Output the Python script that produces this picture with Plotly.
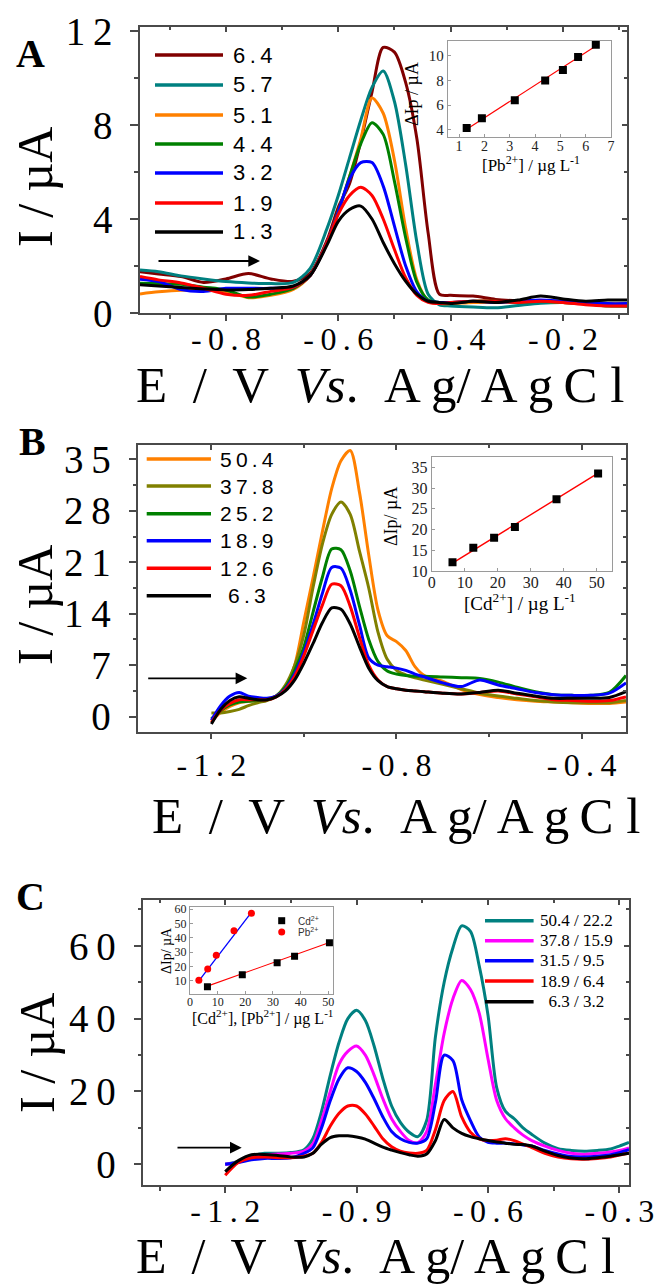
import plotly.graph_objects as go

W, H = 656, 1286

# ================= DATA =================
# ---- Panel A : Pb2+ (ug/L) ----
a_E = [-0.953, -0.92, -0.88, -0.84, -0.80, -0.76, -0.72, -0.68, -0.65, -0.62, -0.60, -0.58, -0.56, -0.54,
       -0.52, -0.50, -0.48, -0.46, -0.44, -0.42, -0.40, -0.36, -0.32, -0.28, -0.24, -0.20, -0.16, -0.12, -0.086]
a_I_64 = [1.76, 1.66, 1.55, 1.30, 1.45, 1.68, 1.45, 1.35, 1.70, 3.10, 4.50, 5.50, 7.30, 9.40, 11.30, 11.10,
          9.80, 7.40, 3.40, 0.80, 0.75, 0.72, 0.58, 0.52, 0.50, 0.48, 0.40, 0.32, 0.30]
a_I_57 = [1.83, 1.76, 1.58, 1.45, 1.34, 1.28, 1.25, 1.30, 1.90, 3.60, 5.00, 6.60, 8.20, 9.60, 10.30, 9.00,
          6.30, 3.00, 0.80, 0.35, 0.30, 0.25, 0.22, 0.32, 0.42, 0.45, 0.40, 0.38, 0.40]
a_I_51 = [0.81, 0.90, 0.97, 0.97, 0.91, 0.65, 0.75, 1.00, 1.60, 3.00, 4.30, 5.80, 7.40, 9.15, 8.50, 6.50,
          3.60, 1.40, 0.50, 0.40, 0.40, 0.45, 0.45, 0.50, 0.50, 0.45, 0.40, 0.40, 0.40]
a_I_44 = [1.27, 1.25, 1.22, 1.10, 0.98, 0.68, 0.80, 1.05, 1.60, 3.00, 4.30, 5.80, 7.20, 8.10, 7.60, 5.60,
          3.20, 1.30, 0.55, 0.45, 0.45, 0.50, 0.50, 0.45, 0.50, 0.45, 0.40, 0.30, 0.30]
a_I_32 = [1.44, 1.34, 1.00, 0.92, 1.05, 1.05, 1.05, 1.10, 1.60, 3.00, 4.30, 5.70, 6.40, 6.40, 5.40, 3.70,
          2.00, 0.90, 0.50, 0.45, 0.45, 0.50, 0.45, 0.50, 0.55, 0.50, 0.45, 0.40, 0.40]
a_I_19 = [1.55, 1.41, 1.28, 1.05, 0.80, 0.75, 0.92, 1.10, 1.60, 3.00, 4.20, 5.00, 5.35, 5.00, 4.00, 2.70,
          1.50, 0.75, 0.45, 0.40, 0.45, 0.50, 0.50, 0.45, 0.50, 0.45, 0.35, 0.30, 0.30]
a_I_13 = [1.20, 1.15, 1.08, 1.02, 0.98, 1.00, 1.05, 1.15, 1.60, 2.90, 3.90, 4.40, 4.55, 4.00, 3.00, 2.10,
          1.35, 0.80, 0.50, 0.45, 0.40, 0.50, 0.45, 0.55, 0.72, 0.60, 0.50, 0.55, 0.55]
a_names = ["6.4", "5.7", "5.1", "4.4", "3.2", "1.9", "1.3"]
a_colors = ["#800000", "#008080", "#ff8000", "#008000", "#0000ff", "#ff0000", "#000000"]
a_curves = [a_I_64, a_I_57, a_I_51, a_I_44, a_I_32, a_I_19, a_I_13]

a_ins_conc = [1.3, 1.9, 3.2, 4.4, 5.1, 5.7, 6.4]
a_ins_dIp = [4.15, 4.95, 6.4, 8.0, 8.85, 9.9, 10.9]
a_fit_conc = [1.3, 6.4]
a_fit_dIp = [4.05, 10.8]

# ---- Panel B : Cd2+ (ug/L) ----
b_E = [-1.20, -1.18, -1.16, -1.14, -1.12, -1.10, -1.08, -1.06, -1.04, -1.02, -1.00, -0.98, -0.96, -0.94,
       -0.92, -0.90, -0.88, -0.86, -0.84, -0.82, -0.80, -0.78, -0.76, -0.74, -0.70, -0.66, -0.62, -0.58,
       -0.54, -0.50, -0.46, -0.42, -0.38, -0.34, -0.304]
b_I_504 = [-0.6, 0.6, 1.4, 1.9, 2.1, 2.2, 2.3, 2.8, 4.0, 7.0, 13.0, 19.0, 25.2, 31.0, 34.8, 36.2, 30.5, 22.0,
           14.5, 11.0, 10.2, 9.0, 6.8, 5.6, 4.8, 3.7, 3.0, 2.6, 2.3, 2.1, 2.0, 1.9, 1.8, 1.8, 2.0]
b_I_378 = [0.5, 0.5, 0.7, 1.0, 1.5, 1.9, 2.2, 2.8, 4.3, 7.0, 11.2, 17.7, 23.5, 27.5, 29.2, 27.5, 22.5, 17.5,
           11.5, 7.8, 6.3, 5.7, 5.3, 5.0, 4.4, 3.8, 3.2, 2.8, 2.5, 2.2, 2.0, 1.9, 1.9, 1.9, 2.2]
b_I_252 = [-0.3, 0.8, 1.6, 2.0, 2.1, 2.2, 2.3, 2.8, 4.0, 6.3, 9.5, 14.3, 19.0, 22.8, 22.7, 19.8, 15.0, 10.5,
           7.5, 6.2, 5.8, 5.6, 5.5, 5.5, 5.4, 5.3, 5.2, 4.7, 4.0, 3.4, 3.0, 2.9, 2.9, 3.3, 5.6]
b_I_189 = [-0.5, 1.5, 2.8, 3.3, 2.8, 2.6, 2.5, 2.8, 3.8, 5.8, 8.8, 12.6, 16.8, 20.3, 20.2, 17.2, 12.5, 8.0,
           7.0, 6.8, 6.6, 6.3, 5.8, 5.4, 4.6, 4.1, 5.0, 4.3, 3.8, 3.3, 3.0, 2.9, 2.9, 3.2, 4.6]
b_I_126 = [-0.8, 0.9, 1.8, 2.3, 2.3, 2.3, 2.3, 2.7, 3.7, 5.5, 8.3, 11.8, 15.2, 18.0, 17.8, 15.0, 10.8, 7.0,
           5.0, 4.1, 3.8, 3.6, 3.5, 3.4, 3.2, 3.1, 3.3, 3.5, 3.1, 2.7, 2.3, 2.2, 2.1, 2.2, 2.7]
b_I_63 = [-1.0, 1.0, 2.2, 2.7, 2.5, 2.3, 2.3, 2.7, 3.5, 5.0, 7.3, 10.0, 12.8, 14.8, 14.6, 12.6, 9.5, 6.6,
          4.9, 4.1, 3.8, 3.6, 3.5, 3.4, 3.2, 3.1, 3.3, 3.6, 3.2, 2.8, 2.5, 2.5, 2.5, 2.6, 3.4]
b_names = ["50.4", "37.8", "25.2", "18.9", "12.6", "6.3"]
b_colors = ["#ff8000", "#808000", "#008000", "#0000ff", "#ff0000", "#000000"]
b_curves = [b_I_504, b_I_378, b_I_252, b_I_189, b_I_126, b_I_63]

b_ins_conc = [6.3, 12.6, 18.9, 25.2, 37.8, 50.4]
b_ins_dIp = [12.1, 15.6, 18.0, 20.6, 27.3, 33.5]
b_fit_conc = [6.3, 50.4]
b_fit_dIp = [11.9, 33.6]

# ---- Panel C : Cd2+ / Pb2+ simultaneous ----
c_E = [-1.20, -1.17, -1.14, -1.11, -1.08, -1.05, -1.02, -1.00, -0.98, -0.96, -0.94, -0.92, -0.90, -0.88,
       -0.86, -0.84, -0.82, -0.80, -0.78, -0.76, -0.74, -0.72, -0.70, -0.68, -0.66, -0.64, -0.62, -0.60,
       -0.58, -0.56, -0.54, -0.52, -0.50, -0.47, -0.44, -0.41, -0.38, -0.35, -0.32, -0.30, -0.278]
c_I_1 = [0.0, 0.8, 2.2, 3.0, 3.0, 3.2, 4.0, 7.0, 14.5, 24.5, 33.5, 40.0, 42.3, 39.5, 32.5, 23.5, 16.0, 11.5,
         8.8, 7.6, 12.0, 35.0, 50.0, 59.5, 65.5, 64.0, 54.5, 41.0, 21.0, 14.5, 12.5, 10.0, 8.2, 5.8, 4.3,
         3.8, 3.6, 3.8, 4.2, 5.0, 6.0]
c_I_2 = [0.0, 0.5, 1.8, 2.6, 2.8, 3.0, 3.6, 5.5, 12.0, 20.0, 27.5, 31.0, 32.5, 30.0, 24.5, 18.0, 12.5, 9.0,
         6.5, 5.9, 9.0, 22.0, 36.0, 45.5, 50.5, 48.0, 41.5, 29.0, 17.5, 12.5, 10.0, 8.0, 6.5, 5.0, 3.8, 3.0,
         2.7, 3.0, 3.4, 3.8, 4.5]
c_I_3 = [0.0, 0.5, 1.2, 1.6, 1.6, 1.8, 3.0, 4.5, 10.0, 17.5, 23.5, 26.5, 25.5, 22.5, 18.0, 13.0, 9.0, 7.0,
         6.0, 5.8, 7.0, 17.0, 30.0, 28.5, 17.7, 12.0, 7.5, 6.0, 5.8, 5.8, 5.6, 5.3, 5.0, 3.8, 2.8, 2.1, 2.0,
         2.2, 2.6, 3.2, 4.0]
c_I_4 = [-3.0, 0.5, 1.8, 2.0, 1.8, 1.8, 2.2, 3.0, 6.0, 10.5, 14.0, 16.0, 16.0, 13.8, 10.5, 7.0, 4.8, 3.6,
         3.1, 3.0, 3.8, 9.5, 17.5, 20.0, 13.0, 8.8, 7.0, 6.5, 6.6, 7.0, 6.5, 5.5, 4.6, 3.0, 2.0, 1.5, 1.4,
         1.6, 2.0, 2.5, 3.0]
c_I_5 = [-2.0, 1.0, 2.6, 2.7, 2.4, 2.0, 2.0, 3.0, 5.5, 7.3, 7.8, 7.8, 7.5, 6.9, 5.8, 4.7, 3.9, 3.2, 2.6,
         2.2, 2.8, 6.5, 12.3, 10.0, 8.5, 7.6, 7.0, 6.5, 6.1, 5.8, 5.5, 5.4, 5.0, 3.6, 2.4, 1.7, 1.5, 1.8,
         2.2, 2.6, 3.0]
c_names = ["50.4 / 22.2", "37.8 / 15.9", "31.5 / 9.5", "18.9 / 6.4", "\u00a0\u00a06.3 / 3.2"]
c_colors = ["#008080", "#ff00ff", "#0000ff", "#ff0000", "#000000"]
c_curves = [c_I_1, c_I_2, c_I_3, c_I_4, c_I_5]

c_cd_conc = [6.3, 18.9, 31.5, 37.8, 50.4]
c_cd_dIp = [6.0, 14.3, 22.7, 27.2, 36.7]
c_pb_conc = [3.2, 6.4, 9.5, 15.9, 22.2]
c_pb_dIp = [10.5, 18.4, 28.0, 45.0, 57.3]
c_cd_fit_conc = [6.3, 50.4]
c_cd_fit_dIp = [6.4, 36.8]
c_pb_fit_conc = [3.2, 22.2]
c_pb_fit_dIp = [10.0, 57.8]

# ================= STYLE HELPERS =================
SERIF = "Liberation Serif, Times New Roman, serif"
SANS = "Liberation Sans, Arial, sans-serif"
FRAME = "#4a4a4a"
INS = "#9a9a9a"


def sp(s):
    return "\u2009".join(list(s))


def dx(l, r):
    return [l / W, r / W]


def dy(t, b):
    return [1 - b / H, 1 - t / H]


def px(x):
    return x / W


def py(y):
    return 1 - y / H


fig = go.Figure()

for ys, c in zip(a_curves, a_colors):
    fig.add_trace(go.Scatter(x=a_E, y=ys, mode="lines", line=dict(color=c, width=3, shape="spline", smoothing=0.8),
                             xaxis="x", yaxis="y", showlegend=False, hoverinfo="skip"))
for ys, c in zip(b_curves, b_colors):
    fig.add_trace(go.Scatter(x=b_E, y=ys, mode="lines", line=dict(color=c, width=3, shape="spline", smoothing=0.8),
                             xaxis="x3", yaxis="y3", showlegend=False, hoverinfo="skip"))
for ys, c in zip(c_curves, c_colors):
    fig.add_trace(go.Scatter(x=c_E, y=ys, mode="lines", line=dict(color=c, width=3, shape="spline", smoothing=0.8),
                             xaxis="x5", yaxis="y5", showlegend=False, hoverinfo="skip"))

fig.add_trace(go.Scatter(x=a_fit_conc, y=a_fit_dIp, mode="lines", line=dict(color="#ff0000", width=1.2),
                         xaxis="x2", yaxis="y2", showlegend=False))
fig.add_trace(go.Scatter(x=a_ins_conc, y=a_ins_dIp, mode="markers", marker=dict(symbol="square", size=8, color="black"),
                         xaxis="x2", yaxis="y2", showlegend=False))
fig.add_trace(go.Scatter(x=b_fit_conc, y=b_fit_dIp, mode="lines", line=dict(color="#ff0000", width=1.4),
                         xaxis="x4", yaxis="y4", showlegend=False))
fig.add_trace(go.Scatter(x=b_ins_conc, y=b_ins_dIp, mode="markers", marker=dict(symbol="square", size=8, color="black"),
                         xaxis="x4", yaxis="y4", showlegend=False))
fig.add_trace(go.Scatter(x=c_pb_fit_conc, y=c_pb_fit_dIp, mode="lines", line=dict(color="#0000ff", width=1.3),
                         xaxis="x6", yaxis="y6", showlegend=False))
fig.add_trace(go.Scatter(x=c_cd_fit_conc, y=c_cd_fit_dIp, mode="lines", line=dict(color="#ff0000", width=1.1),
                         xaxis="x6", yaxis="y6", showlegend=False))
fig.add_trace(go.Scatter(x=c_cd_conc, y=c_cd_dIp, mode="markers", marker=dict(symbol="square", size=7, color="black"),
                         xaxis="x6", yaxis="y6", showlegend=False))
fig.add_trace(go.Scatter(x=c_pb_conc, y=c_pb_dIp, mode="markers", marker=dict(symbol="circle", size=7, color="#ff0000"),
                         xaxis="x6", yaxis="y6", showlegend=False))

for xa, ya in [("x7", "y7"), ("x8", "y8"), ("x9", "y9")]:
    fig.add_trace(go.Scatter(x=[None], y=[None], xaxis=xa, yaxis=ya, showlegend=False, hoverinfo="skip"))


def main_x(dom, anchor, rng, tv, minor_tv, standoff):
    return dict(domain=dom, anchor=anchor, range=rng, tickmode="array", tickvals=tv,
                ticktext=[sp(f"{v:.1f}") for v in tv],
                ticks="outside", ticklen=6, tickwidth=1.5, tickcolor=FRAME,
                minor=dict(tickmode="array", tickvals=minor_tv, ticks="outside", ticklen=4, tickwidth=1.5, tickcolor=FRAME),
                showline=True, linecolor=FRAME, linewidth=1.5, mirror=True, showgrid=False, zeroline=False,
                tickfont=dict(family=SERIF, size=32, color="black"), ticklabelstandoff=standoff, automargin=False)


def main_y(dom, anchor, rng, tv, minor_tv):
    return dict(domain=dom, anchor=anchor, range=rng, tickmode="array", tickvals=tv,
                ticktext=[sp(str(v)) for v in tv],
                ticks="outside", ticklen=8, tickwidth=1.5, tickcolor=FRAME,
                minor=dict(tickmode="array", tickvals=minor_tv, ticks="outside", ticklen=4, tickwidth=1.5, tickcolor=FRAME),
                showline=True, linecolor=FRAME, linewidth=1.5, mirror=True, showgrid=False, zeroline=False,
                tickfont=dict(family=SERIF, size=39, color="black"), ticklabelstandoff=10, automargin=False)


def over_x(base, anchor, rng, tv, minor_tv):
    return dict(overlaying=base, anchor=anchor, side="top", range=rng, tickmode="array", tickvals=tv,
                ticks="inside", ticklen=5, tickwidth=1.5, tickcolor=FRAME, showticklabels=False,
                minor=dict(tickmode="array", tickvals=minor_tv, ticks="inside", ticklen=3, tickwidth=1.5, tickcolor=FRAME),
                showline=False, showgrid=False, zeroline=False, automargin=False)


def over_y(base, anchor, rng, tv, minor_tv):
    return dict(overlaying=base, anchor=anchor, side="right", range=rng, tickmode="array", tickvals=tv,
                ticks="inside", ticklen=5, tickwidth=1.5, tickcolor=FRAME, showticklabels=False,
                minor=dict(tickmode="array", tickvals=minor_tv, ticks="inside", ticklen=3, tickwidth=1.5, tickcolor=FRAME),
                showline=False, showgrid=False, zeroline=False, automargin=False)


def ins_ax(dom, anchor, rng, tv, size, standoff=0):
    return dict(domain=dom, anchor=anchor, range=rng, tickmode="array", tickvals=tv,
                ticks="inside", ticklen=3, tickwidth=1, tickcolor=INS,
                showline=True, linecolor=INS, linewidth=1, mirror=True, showgrid=False, zeroline=False,
                tickfont=dict(family=SERIF, size=size, color="#222"), ticklabelstandoff=standoff, automargin=False)


A_XR, A_YR = [-0.953, -0.086], [0, 12.17]
A_XT, A_XM = [-0.8, -0.6, -0.4, -0.2], [-0.9, -0.7, -0.5, -0.3, -0.1]
A_YT, A_YM = [0, 4, 8, 12], [2, 6, 10]
B_XR, B_YR = [-1.358, -0.304], [-2.04, 36.94]
B_XT, B_XM = [-1.2, -0.8, -0.4], [-1.0, -0.6]
B_YT, B_YM = [0, 7, 14, 21, 28, 35], [3.5, 10.5, 17.5, 24.5, 31.5]
C_XR, C_YR = [-1.387, -0.278], [-5.7, 72.6]
C_XT, C_XM = [-1.2, -0.9, -0.6, -0.3], [-1.35, -1.05, -0.75, -0.45]
C_YT, C_YM = [0, 20, 40, 60], [10, 30, 50, 70]

A_XD, A_YD = dx(140, 627), dy(27, 313)
B_XD, B_YD = dx(138.3, 626), dy(445, 731.7)
C_XD, C_YD = dx(143.3, 629), dy(900, 1185)

fig.update_layout(
    width=W, height=H, autosize=False, margin=dict(l=0, r=0, t=0, b=0, pad=0),
    paper_bgcolor="white", plot_bgcolor="white", showlegend=False,
    xaxis=main_x(A_XD, "y", A_XR, A_XT, A_XM, -9),
    yaxis=main_y(A_YD, "x", A_YR, A_YT, A_YM),
    xaxis3=main_x(B_XD, "y3", B_XR, B_XT, B_XM, -2),
    yaxis3=main_y(B_YD, "x3", B_YR, B_YT, B_YM),
    xaxis5=main_x(C_XD, "y5", C_XR, C_XT, C_XM, -9),
    yaxis5=main_y(C_YD, "x5", C_YR, C_YT, C_YM),
    xaxis7=over_x("x", "y7", A_XR, A_XT, A_XM),
    yaxis7=over_y("y", "x7", A_YR, A_YT, A_YM),
    xaxis8=over_x("x3", "y8", B_XR, B_XT, B_XM),
    yaxis8=over_y("y3", "x8", B_YR, B_YT, B_YM),
    xaxis9=over_x("x5", "y9", C_XR, C_XT, C_XM),
    yaxis9=over_y("y5", "x9", C_YR, C_YT, C_YM),
    xaxis2=ins_ax(dx(447.7, 611), "y2", [0.55, 7.0], [1, 2, 3, 4, 5, 6, 7], 14, -4),
    yaxis2=ins_ax(dy(41, 137.3), "x2", [3.4, 11.2], [4, 6, 8, 10], 15),
    xaxis4=ins_ax(dx(431.7, 612.3), "y4", [0, 54.7], [0, 10, 20, 30, 40, 50], 16, -3),
    yaxis4=ins_ax(dy(457.3, 571), "x4", [10, 37.4], [10, 15, 20, 25, 30, 35], 16),
    xaxis6=ins_ax(dx(190, 333.3), "y6", [0, 51.8], [0, 10, 20, 30, 40, 50], 12, -3),
    yaxis6=ins_ax(dy(906.7, 994), "x6", [0.9, 61.8], [10, 20, 30, 40, 50, 60], 12),
)

ann = []
shapes = []


def text(x, y, t, size, family=SERIF, angle=0, xanchor="center", bold=False, color="black", yanchor="middle"):
    if bold:
        t = f"<b>{t}</b>"
    ann.append(dict(x=px(x), y=py(y), xref="paper", yref="paper", text=t, showarrow=False,
                    font=dict(family=family, size=size, color=color), textangle=angle,
                    xanchor=xanchor, yanchor=yanchor))


XT = "E\u00a0\u00a0/\u00a0\u00a0V\u00a0\u00a0<i>Vs</i>.\u00a0\u00a0A\u2009g/\u2009A\u2009g\u2009C\u00a0l"
YT = "I\u00a0/\u00a0\u00b5A"

text(30, 54, "A", 40, bold=True)
text(32, 441, "B", 40, bold=True)
text(30, 896, "C", 40, bold=True)
text(380, 385, XT, 51)
text(396, 816, XT, 51)
text(376, 1286, XT, 50, yanchor="bottom")
text(35, 187, YT, 50, angle=-90)
text(35, 605, YT, 50, angle=-90)
text(37, 1053, YT, 50, angle=-90)

text(531, 164, "[Pb<sup>2+</sup>] / \u00b5g L<sup>-1</sup>", 17)
text(412, 94, "\u0394Ip / \u00b5A", 18, angle=-90)
text(520, 602, "[Cd<sup>2+</sup>] / \u00b5g L<sup>-1</sup>", 19)
text(391, 517, "\u0394Ip/ \u00b5A", 18, angle=-90)
text(262, 1017, "[Cd<sup>2+</sup>], [Pb<sup>2+</sup>] / \u00b5g L<sup>-1</sup>", 16)
text(166, 951, "\u0394Ip/ \u00b5A", 14, angle=-90)

a_rows = [55, 85, 115, 144, 173, 203, 232]
for yy, name, col in zip(a_rows, a_names, a_colors):
    shapes.append(dict(type="line", xref="paper", yref="paper", x0=px(155), x1=px(223), y0=py(yy), y1=py(yy),
                       line=dict(color=col, width=3.5)))
    text(231, yy, sp(name), 22, family=SANS, xanchor="left")
b_rows = [459, 486, 513.7, 540.7, 568.3, 595.7]
for yy, name, col in zip(b_rows, b_names, b_colors):
    shapes.append(dict(type="line", xref="paper", yref="paper", x0=px(146.7), x1=px(211), y0=py(yy), y1=py(yy),
                       line=dict(color=col, width=3.5)))
    text(217.7 if len(name) > 3 else 226, yy, sp(name), 21, family=SANS, xanchor="left")
c_rows = [920.7, 940.7, 960.7, 981, 1001.7]
for yy, name, col in zip(c_rows, c_names, c_colors):
    shapes.append(dict(type="line", xref="paper", yref="paper", x0=px(485), x1=px(533.6), y0=py(yy), y1=py(yy),
                       line=dict(color=col, width=3.5)))
    text(537.8, yy, name, 17, xanchor="left")

shapes.append(dict(type="rect", xref="paper", yref="paper", x0=px(278.2), x1=px(285.2), y0=py(924.2), y1=py(917.2),
                   fillcolor="black", line=dict(width=0)))
shapes.append(dict(type="circle", xref="paper", yref="paper", x0=px(278.2), x1=px(285.2), y0=py(935.5), y1=py(928.5),
                   fillcolor="#ff0000", line=dict(width=0)))
text(296, 920.7, "Cd<sup>2+</sup>", 10, family=SANS, xanchor="left", color="#333")
text(296, 932, "Pb<sup>2+</sup>", 10, family=SANS, xanchor="left", color="#333")

for (x0, x1, yy) in [(157, 260, 261), (146.7, 247.3, 678.3), (176, 241.7, 1147.7)]:
    ann.append(dict(x=px(x1), y=py(yy), xref="paper", yref="paper", ax=-(x1 - x0), ay=0, text="",
                    showarrow=True, arrowhead=2, arrowsize=1.3, arrowwidth=1.8, arrowcolor="black", standoff=0))

fig.update_layout(annotations=ann, shapes=shapes)
fig.write_html("out.html", config={"displayModeBar": False},
               post_script="document.body.style.margin='0px';document.body.style.overflow='hidden';")
